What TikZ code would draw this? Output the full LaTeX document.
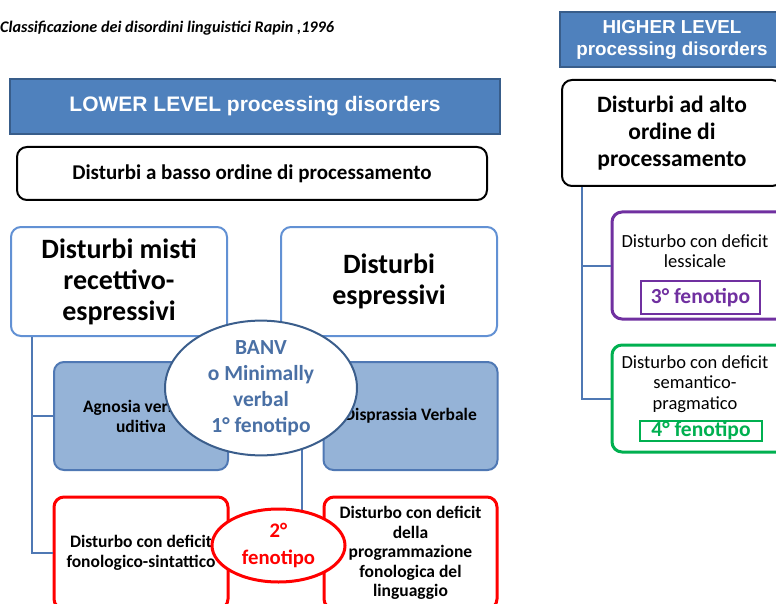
\documentclass[tikz,border=0pt]{standalone}
\usepackage{fontspec}
\setmainfont{Carlito}
\newfontfamily\arialfont{Liberation Sans}
\usetikzlibrary{shapes.geometric}

\definecolor{bannerblue}{RGB}{79,129,189}
\definecolor{bannerline}{RGB}{56,93,138}
\definecolor{boxblue}{RGB}{98,145,212}
\definecolor{fillblue}{RGB}{149,179,215}
\definecolor{ovalblue}{RGB}{59,94,140}
\definecolor{ovaltext}{RGB}{74,112,165}
\definecolor{treeblue}{RGB}{79,120,180}
\definecolor{fenored}{RGB}{255,0,0}
\definecolor{fenopurple}{RGB}{112,48,160}
\definecolor{fenogreen}{RGB}{0,176,80}

\tikzset{
  banner/.style={draw=bannerline,line width=1.5pt,fill=bannerblue,text=white,align=center,inner sep=0pt},
  levelbox/.style={draw=black,line width=2pt,rounded corners=10pt,fill=white,align=center,inner sep=0pt},
  typebox/.style={draw=boxblue,line width=2pt,rounded corners=10pt,fill=white,align=center,inner sep=0pt,
    minimum width=216,minimum height=109,font=\bfseries\fontsize{28}{31}\selectfont},
  subbox/.style={draw=treeblue,line width=2pt,rounded corners=10pt,fill=fillblue,align=center,inner sep=0pt,
    minimum width=174,minimum height=108,font=\bfseries\fontsize{17.5}{20}\selectfont},
  redbox/.style={draw=fenored,line width=3pt,rounded corners=10pt,fill=white,align=center,inner sep=0pt,
    minimum width=174,minimum height=112,font=\bfseries\fontsize{17.5}{19.5}\selectfont},
  highbox/.style={draw=#1,line width=3pt,rounded corners=10pt,fill=white,minimum width=178,minimum height=107},
  fenotag/.style={draw=#1,line width=2pt,text=#1,inner sep=0pt,font=\bfseries\fontsize{21.5}{22}\selectfont},
  fenoval/.style={ellipse,draw=#1,line width=2pt,fill=white,align=center,inner sep=0pt,font=\bfseries\fontsize{21.5}{26}\selectfont},
  plain/.style={align=center,inner sep=0pt,font=\fontsize{18.5}{20.5}\selectfont},
  tree/.style={draw=treeblue,line width=2pt}
}

\begin{document}
\begin{tikzpicture}[x=1pt,y=-1pt]
  \clip (0,0) rectangle (776,604);
  \fill[white] (0,0) rectangle (776,604);

  % title
  \node[anchor=west,inner sep=0pt,font=\bfseries\itshape\fontsize{16.2}{18}\selectfont] (title) at (0,28)
    {Classificazione dei disordini linguistici Rapin ,1996};

  % lower level
  \node[banner,minimum width=490,minimum height=55,font=\arialfont\bfseries\fontsize{21}{24}\selectfont] (lower) at (255,106.5)
    {LOWER LEVEL processing disorders};
  \node[levelbox,minimum width=470,minimum height=53,font=\bfseries\fontsize{21}{24}\selectfont] (basso) at (252,173.5)
    {Disturbi a basso ordine di processamento};
  \node[typebox] (misti) at (119,281.5) {Disturbi misti\\recettivo-\\espressivi};
  \node[typebox] (espr) at (389,281.5) {Disturbi\\espressivi};
  \node[subbox] (agnosia) at (141,416) {Agnosia verbale\\uditiva};
  \node[subbox] (disprassia) at (410.5,416) {Disprassia Verbale};
  \node[redbox] (fonsint) at (141,553) {Disturbo con deficit\\fonologico-sintattico};
  \node[redbox,minimum width=173] (program) at (410.5,553)
    {Disturbo con deficit\\della\\programmazione\\fonologica del\\linguaggio};

  % higher level
  \node[banner,minimum width=224,minimum height=55,font=\arialfont\bfseries\fontsize{18.8}{22}\selectfont] (higher) at (672,39.5)
    {HIGHER LEVEL\\processing disorders};
  \node[levelbox,minimum width=220,minimum height=106,font=\bfseries\fontsize{23.5}{27}\selectfont] (alto) at (672,133)
    {Disturbi ad alto\\ordine di\\processamento};
  \node[highbox=fenopurple] (lessbox) at (701,265.5) {};
  \node[plain] (lesstext) at (695,251) {Disturbo con deficit\\lessicale};
  \node[fenotag=fenopurple,minimum width=119,minimum height=33] (feno3) at (700.5,297.5) {3° fenotipo};
  \node[highbox=fenogreen] (sembox) at (701,398.5) {};
  \node[plain] (semtext) at (695,384) {Disturbo con deficit\\semantico-\\pragmatico};
  \node[fenotag=fenogreen,minimum width=122,minimum height=20,text height=14,text depth=4] (feno4) at (701,431) {4° fenotipo};

  % connectors
  \draw[tree] ([xshift=22]misti.south west) |- (agnosia.west);
  \draw[tree] ([xshift=22]misti.south west) |- (fonsint.west);
  \draw[tree] ([xshift=22]espr.south west) |- (disprassia.west);
  \draw[tree] ([xshift=22]espr.south west) |- (program.west);
  \draw[tree] ([xshift=21]alto.south west) |- (lessbox.west);
  \draw[tree] ([xshift=21]alto.south west) |- (sembox.west);

  % phenotypes
  \node[fenoval=ovalblue,text=ovaltext,minimum width=192,minimum height=120] (banv) at (261,388)
    {BANV\\o Minimally\\verbal\\1° fenotipo};
  \node[fenoval=fenored,text=fenored,line width=3pt,minimum width=133,minimum height=73,font=\bfseries\fontsize{20.7}{27}\selectfont] (feno2) at (278.5,545.5)
    {2°\\fenotipo};
\end{tikzpicture}
\end{document}
